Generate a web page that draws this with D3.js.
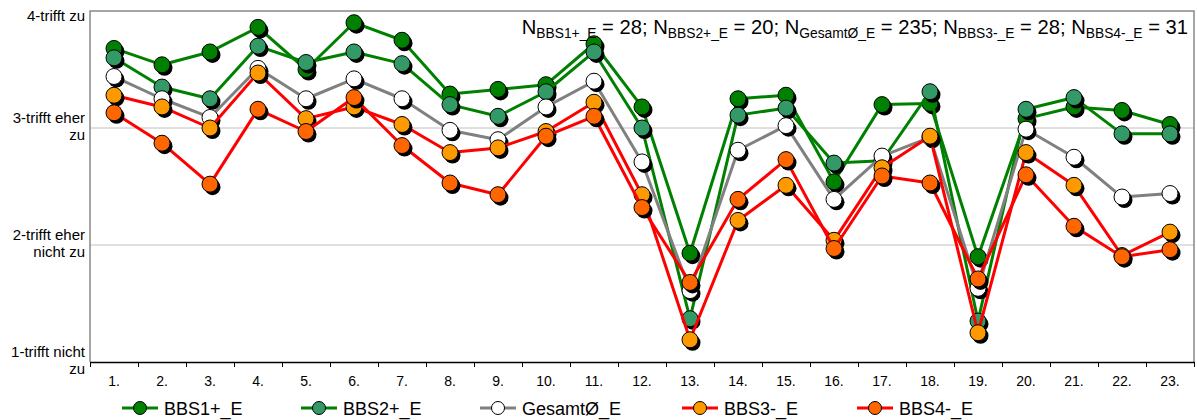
<!DOCTYPE html>
<html>
<head>
<meta charset="utf-8">
<script src="https://cdn.jsdelivr.net/npm/d3@7"></script>
<style>
  body { margin: 0; background: #fff; }
  text { font-family: Arial, "Liberation Sans", sans-serif; fill: #000; }
</style>
</head>
<body>
<svg id="chart" width="1197" height="420"></svg>
<script>
// Item numbers along the x axis
const categories = ["1.","2.","3.","4.","5.","6.","7.","8.","9.","10.","11.","12.",
                    "13.","14.","15.","16.","17.","18.","19.","20.","21.","22.","23."];

// Mean ratings per group (1 = trifft nicht zu ... 4 = trifft zu)
const bbs1 = [3.68,3.54,3.65,3.86,3.50,3.90,3.75,3.29,3.33,3.37,3.72,3.18,1.93,3.25,3.28,2.54,3.20,3.21,1.90,3.08,3.18,3.15,3.03];
const bbs2 = [3.60,3.35,3.25,3.70,3.56,3.65,3.55,3.20,3.10,3.31,3.65,3.00,1.37,3.11,3.17,2.70,2.72,3.31,1.35,3.16,3.26,2.95,2.95];
const gesamt = [3.44,3.25,3.09,3.51,3.25,3.42,3.25,2.98,2.90,3.18,3.40,2.71,1.61,2.81,3.02,2.39,2.76,2.92,1.63,2.99,2.75,2.41,2.44];
const bbs3 = [3.28,3.18,3.00,3.47,3.08,3.18,3.03,2.79,2.83,2.97,3.22,2.43,1.19,2.21,2.51,2.04,2.66,2.93,1.25,2.79,2.51,1.91,2.11];
const bbs4 = [3.13,2.87,2.52,3.16,2.97,3.26,2.85,2.53,2.43,2.93,3.10,2.32,1.68,2.39,2.73,1.97,2.59,2.53,1.71,2.60,2.16,1.90,1.96];

const seriesNames = ["BBS1+_E","BBS2+_E","GesamtØ_E","BBS3-_E","BBS4-_E"];

// Y axis ticks and their (two-line) labels
const yTicks = [1, 2, 3, 4];
const yTickLabels = [["1-trifft nicht","zu"],["2-trifft eher","nicht zu"],["3-trifft eher","zu"],["4-trifft zu"]];

// Group sizes for the annotation
const nLabels = ["BBS1+_E","BBS2+_E","GesamtØ_E","BBS3-_E","BBS4-_E"];
const nValues = [28, 20, 235, 28, 31];

// ---- styling / layout ----
const styles = [
  { line: "#008000", fill: "#008000" },
  { line: "#008000", fill: "#339966" },
  { line: "#808080", fill: "#ffffff" },
  { line: "#ff0000", fill: "#ff9900" },
  { line: "#ff0000", fill: "#ff6600" }
];
const seriesData = [bbs1, bbs2, gesamt, bbs3, bbs4];

const plotLeft = 90, plotRight = 1194, plotTop = 11, plotBottom = 362;
const svg = d3.select("#chart");

const x = d3.scaleBand().domain(categories).range([plotLeft, plotRight]);
const xEdge = d3.scaleLinear().domain([0, categories.length]).range([plotLeft, plotRight]);
const y = d3.scaleLinear().domain([1, 4]).range([plotBottom, plotTop]);

// Gridlines at 2 and 3
svg.append("g").selectAll("line")
  .data(yTicks.filter(t => t > 1 && t < 4))
  .join("line")
  .attr("x1", plotLeft).attr("x2", plotRight)
  .attr("y1", d => y(d)).attr("y2", d => y(d))
  .attr("stroke", "#c0c0c0").attr("stroke-width", 1);

// Plot frame (top, left, right)
svg.append("path")
  .attr("d", `M${plotLeft},${plotBottom}V${y(4)}H${plotRight}V${plotBottom}`)
  .attr("fill", "none").attr("stroke", "#888").attr("stroke-width", 1.5);

// X axis: boundary ticks + centred labels
const xAxisG = svg.append("g").attr("transform", `translate(0,${plotBottom})`)
  .call(d3.axisBottom(xEdge).tickValues(d3.range(0, categories.length + 1)).tickFormat("").tickSize(5).tickSizeOuter(0));
xAxisG.select(".domain").attr("stroke", "#000").attr("stroke-width", 1.5);
xAxisG.selectAll(".tick line").attr("stroke", "#000");

const xLabG = svg.append("g").attr("transform", `translate(0,${plotBottom})`)
  .call(d3.axisBottom(x).tickSize(0).tickPadding(14));
xLabG.select(".domain").remove();
xLabG.selectAll("text").attr("font-size", 14).attr("font-family", "Arial, 'Liberation Sans', sans-serif").attr("fill", "#000");

// Y axis labels
const yAxisG = svg.append("g").attr("transform", `translate(${plotLeft},0)`)
  .call(d3.axisLeft(y).tickValues(yTicks).tickSize(0).tickFormat(""));
yAxisG.select(".domain").remove();
yAxisG.selectAll(".tick").each(function(d, i) {
  const lines = yTickLabels[i];
  const t = d3.select(this).append("text")
    .attr("x", -5).attr("text-anchor", "end")
    .attr("font-size", 15).attr("fill", "#000")
    .attr("font-family", "Arial, 'Liberation Sans', sans-serif");
  if (lines.length === 1) {
    t.append("tspan").attr("x", -5).attr("y", 9).text(lines[0]);
  } else {
    t.append("tspan").attr("x", -5).attr("y", -5.5).text(lines[0]);
    t.append("tspan").attr("x", -5).attr("y", 11.5).text(lines[1]);
  }
});

// Series: line, shadows, markers
const line = d3.line().x((d, i) => x(categories[i]) + x.bandwidth() / 2).y(d => y(d));
const R = 8;
seriesData.forEach((vals, s) => {
  const g = svg.append("g");
  g.append("path").datum(vals).attr("d", line)
    .attr("fill", "none").attr("stroke", styles[s].line).attr("stroke-width", 3)
    .attr("stroke-linejoin", "round");
  g.selectAll(".shadow").data(vals).join("circle").attr("class", "shadow")
    .attr("cx", (d, i) => x(categories[i]) + x.bandwidth() / 2 + 2.5)
    .attr("cy", d => y(d) + 3).attr("r", R).attr("fill", "#000");
  g.selectAll(".mark").data(vals).join("circle").attr("class", "mark")
    .attr("cx", (d, i) => x(categories[i]) + x.bandwidth() / 2)
    .attr("cy", d => y(d)).attr("r", R)
    .attr("fill", styles[s].fill).attr("stroke", "#000").attr("stroke-width", 1);
});

// N annotation
const nText = svg.append("text").attr("x", 1188).attr("y", 34)
  .attr("text-anchor", "end").attr("font-size", 20.2);
nLabels.forEach((lab, i) => {
  nText.append("tspan").text("N");
  nText.append("tspan").attr("font-size", 13.8).attr("dy", 4).text(lab);
  nText.append("tspan").attr("dy", -4).text(` = ${nValues[i]}` + (i < nLabels.length - 1 ? "; " : ""));
});

// Legend
const legendX = [122, 301, 480, 682, 857];
const legendY = 408;
const lg = svg.append("g");
seriesNames.forEach((name, s) => {
  const gx = legendX[s];
  lg.append("line").attr("x1", gx).attr("x2", gx + 36).attr("y1", legendY).attr("y2", legendY)
    .attr("stroke", styles[s].line).attr("stroke-width", 3);
  lg.append("circle").attr("cx", gx + 18).attr("cy", legendY).attr("r", 6.5)
    .attr("fill", styles[s].fill).attr("stroke", "#000").attr("stroke-width", 1);
  lg.append("text").attr("x", gx + 42).attr("y", legendY + 6.5)
    .attr("font-size", 18).text(name);
});
</script>
</body>
</html>
